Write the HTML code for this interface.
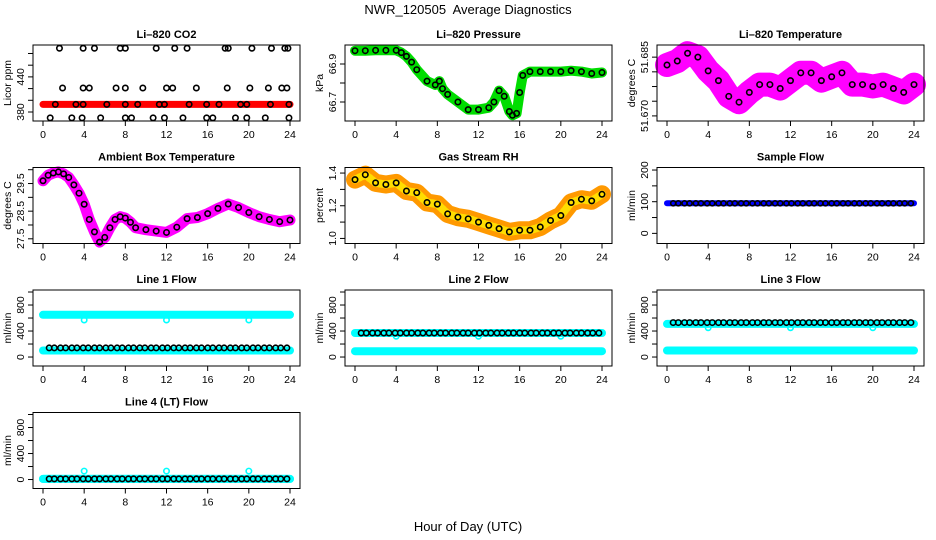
<!DOCTYPE html>
<html><head><meta charset="utf-8"><style>
body{margin:0;background:#fff}
svg{display:block;font-family:"Liberation Sans",sans-serif}
</style></head><body>
<svg id="chart" width="936" height="540" viewBox="0 0 936 540">
<text x="468" y="14" text-anchor="middle" font-size="13">NWR_120505&#160; Average Diagnostics</text>
<text x="468" y="531" text-anchor="middle" font-size="13">Hour of Day (UTC)</text>
</svg>
<script>
// ---- data ----
const xTicks = [0,4,8,12,16,20,24];
const flowHours = [0.6,1.1,1.7,2.2,2.8,3.3,3.9,4.4,5,5.5,6.1,6.6,7.2,7.7,8.3,8.8,9.4,9.9,10.5,11,11.6,12.1,12.7,13.2,13.8,14.3,14.9,15.4,16,16.5,17.1,17.6,18.2,18.7,19.3,19.8,20.4,20.9,21.5,22,22.6,23.1,23.7];
const spikeHours = [4,12,20];

const co2Band = 393;
const co2TopHours = [1.6,3.9,5,7.5,8,11,12.8,14,17.7,18,20.3,22.2,23.5,23.8];
const co2Top = 489;
const co2MidHours = [1.9,3.9,4.5,7.1,8,9.7,12,12.6,14.9,17.9,20.1,21.9,23.2,23.7];
const co2Mid = 421;
const co2LowHours = [0.7,2.8,3.8,5.6,8,8.6,10.7,11.8,13.6,15.9,16.5,18.7,19.8,21.6,23.9];
const co2Low = 370;
const co2BandHours = [1.2,3.2,3.9,6.2,8,9.2,11.3,11.8,14.2,15.9,17.1,19.2,19.8,22.1,23.9];

const pressHours = [0,1,2,3,4,4.5,5,5.5,6,7,7.8,8.2,8.5,9,10,11,12,13,13.5,14,14.5,15,15.3,15.7,16,16.3,17,18,19,20,21,22,23,24];
const pressVals = [66.97,66.97,66.972,66.972,66.972,66.96,66.94,66.91,66.87,66.81,66.79,66.81,66.77,66.74,66.7,66.66,66.66,66.67,66.70,66.76,66.73,66.65,66.63,66.64,66.75,66.84,66.86,66.86,66.86,66.86,66.865,66.86,66.85,66.855];

const tempHours = [0,1,2,3,4,5,6,7,8,9,10,11,12,13,14,15,16,17,18,19,20,21,22,23,24];
const tempVals = [51.683,51.684,51.686,51.685,51.6815,51.679,51.675,51.6735,51.676,51.678,51.678,51.677,51.679,51.681,51.681,51.679,51.680,51.681,51.678,51.678,51.6775,51.678,51.677,51.676,51.678];

const ambHours = [0,0.5,1,1.5,2,2.5,3,3.5,4,4.5,5,5.5,6,6.5,7,7.5,8,8.5,9,10,11,12,13,14,15,16,17,18,19,20,21,22,23,24];
const ambVals = [29.6,29.8,29.88,29.92,29.85,29.72,29.45,29.15,28.75,28.2,27.75,27.38,27.55,27.9,28.2,28.3,28.25,28.1,27.9,27.83,27.78,27.73,27.92,28.23,28.27,28.41,28.6,28.76,28.63,28.45,28.3,28.2,28.12,28.18];

const rhHours = [0,1,2,3,4,5,6,7,8,9,10,11,12,13,14,15,16,17,18,19,20,21,22,23,24];
const rhVals = [1.36,1.39,1.34,1.33,1.34,1.29,1.28,1.22,1.21,1.15,1.13,1.12,1.10,1.08,1.06,1.04,1.05,1.05,1.07,1.11,1.14,1.22,1.24,1.23,1.27];

const sampleFlow = 95;
const line1 = {black:140, cyanHigh:650, cyanLow:100, spike:570};
const line2 = {black:370, cyanHigh:370, cyanLow:90, spike:320};
const line3 = {black:530, cyanHigh:510, cyanLow:100, spike:450};
const line4 = {black:10, cyanHigh:10, cyanLow:10, spike:130};

// ---- drawing ----
const svg = document.getElementById('chart');
const NS = 'http://www.w3.org/2000/svg';
function mk(tag, attrs, parent){ const e=document.createElementNS(NS,tag); for(const k in attrs) e.setAttribute(k,attrs[k]); (parent||svg).appendChild(e); return e; }

const colLeft = [33, 345, 657];
const rowTop = [45, 167.5, 290, 412.5];
const W = 267, H = 76;

function panel(col,row,name,title,ylab,ymin,ymax,yticks,ylabels){
  const g = mk('g',{});
  
  
  const L=colLeft[col], T=rowTop[row];
  const xs = h => L + 10 + h*(W-20)/24;
  const ys = v => T + H - (v-ymin)/(ymax-ymin)*H;
  const t = mk('text',{x:L+W/2,y:T-7,'text-anchor':'middle','font-size':11,'font-weight':'bold'},g);
  t.textContent = title;
  
  
  const xa = mk('g',{},g);
  
  
  mk('line',{x1:xs(0),x2:xs(24),y1:T+H,y2:T+H,stroke:'#000'},xa);
  xTicks.forEach(h=>{
    mk('line',{x1:xs(h),x2:xs(h),y1:T+H,y2:T+H+5,stroke:'#000'},xa);
    const tx=mk('text',{x:xs(h),y:T+H+17,'text-anchor':'middle','font-size':10.5},xa);
    tx.textContent=h;
  });
  const ya = mk('g',{},g);
  
  
  yticks.forEach((v,i)=>{
    mk('line',{x1:L-5,x2:L,y1:ys(v),y2:ys(v),stroke:'#000'},ya);
    if(ylabels[i]){
      const tx=mk('text',{x:0,y:0,'text-anchor':'middle','font-size':10.5,transform:`translate(${L-9},${ys(v)}) rotate(-90)`},ya);
      tx.textContent=ylabels[i];
    }
  });
  const yl=mk('text',{x:0,y:0,'text-anchor':'middle','font-size':10.5,transform:`translate(${L-22},${T+H/2}) rotate(-90)`},g);
  yl.textContent=ylab;
  
  
  const plot = mk('g',{},g);
  
  
  mk('rect',{x:L,y:T,width:W,height:H,fill:'none',stroke:'#000'},g);
  return {plot,xs,ys};
}
function band(p,hours,vals,color,width,name){
  const pts = hours.map((h,i)=>p.xs(h).toFixed(1)+','+p.ys(vals[i]).toFixed(1)).join(' ');
  const e = mk('polyline',{points:pts,fill:'none',stroke:color,'stroke-width':width,'stroke-linejoin':'round','stroke-linecap':'round'},p.plot);
  
  
  return e;
}
function flat(p,v,color,width,name){ return band(p,[0,24],[v,v],color,width,name); }
function circles(p,hours,vals,color,name,r){
  const g = mk('g',{},p.plot);
  
  
  hours.forEach((h,i)=>{
    const v = Array.isArray(vals)?vals[i]:vals;
    mk('circle',{cx:p.xs(h),cy:p.ys(v),r:r||2.7,fill:'none',stroke:color,'stroke-width':1.6},g);
  });
}

let p = panel(0,0,'co2','Li\u2013820 CO2','Licor ppm',364.6,494.5,[380,400,420,440,460,480],['380','','','440','','']);
flat(p,co2Band,'#ff0000',7,'co2-red-band');
circles(p,co2TopHours,co2Top,'#000','co2-high-points');
circles(p,co2MidHours,co2Mid,'#000','co2-mid-points');
circles(p,co2LowHours,co2Low,'#000','co2-low-points');
circles(p,co2BandHours,co2Band,'#000','co2-band-points');

p = panel(1,0,'pressure','Li\u2013820 Pressure','kPa',66.6,67.0,[66.7,66.8,66.9],['66.7','','66.9']);
band(p,pressHours,pressVals,'#00dd00',10,'pressure-green-cloud');
circles(p,pressHours,pressVals,'#000','pressure-points');

p = panel(2,0,'li820-temp','Li\u2013820 Temperature','degrees C',51.6687,51.6881,[51.670,51.67375,51.6775,51.68125,51.685],['51.670','','','','51.685']);
band(p,tempHours,tempVals,'#ff00ff',24,'temp-magenta-cloud');
circles(p,tempHours,tempVals,'#000','temp-points');

p = panel(0,1,'ambient-temp','Ambient Box Temperature','degrees C',27.33,30.08,[27.5,28,28.5,29,29.5,30],['27.5','','28.5','','29.5','']);
band(p,ambHours,ambVals,'#ff00ff',11,'ambient-magenta-cloud');
circles(p,ambHours,ambVals,'#000','ambient-points');

p = panel(1,1,'gas-rh','Gas Stream RH','percent',0.969,1.434,[1.0,1.1,1.2,1.3,1.4],['1.0','','1.2','','1.4']);
band(p,rhHours,rhVals,'#ff9900',18,'rh-orange-cloud');
band(p,rhHours,rhVals,'#ffdd00',8,'rh-yellow-cloud').setAttribute('stroke-dasharray','2 2');
circles(p,rhHours,rhVals,'#000','rh-points');

p = panel(2,1,'sample-flow','Sample Flow','ml/min',-32,208,[0,50,100,150,200],['0','','100','','200']);
flat(p,sampleFlow,'#0000ff',6,'sample-blue-band');
circles(p,flowHours,sampleFlow,'#000','sample-points',2.5);

function flowPanel(col,row,name,title,d){
  const q = panel(col,row,name,title,'ml/min',-138,1031,[0,200,400,600,800,1000],['0','','400','','800','']);
  flat(q,d.cyanHigh,'#00ffff',8,name+'-cyan-high');
  flat(q,d.cyanLow,'#00ffff',8,name+'-cyan-low');
  circles(q,spikeHours,d.spike,'#00ffff',name+'-cyan-spikes');
  circles(q,flowHours,d.black,'#000',name+'-points',2.7);
}
flowPanel(0,2,'line1-flow','Line 1 Flow',line1);
flowPanel(1,2,'line2-flow','Line 2 Flow',line2);
flowPanel(2,2,'line3-flow','Line 3 Flow',line3);
flowPanel(0,3,'line4-flow','Line 4 (LT) Flow',line4);
</script>
</body></html>
